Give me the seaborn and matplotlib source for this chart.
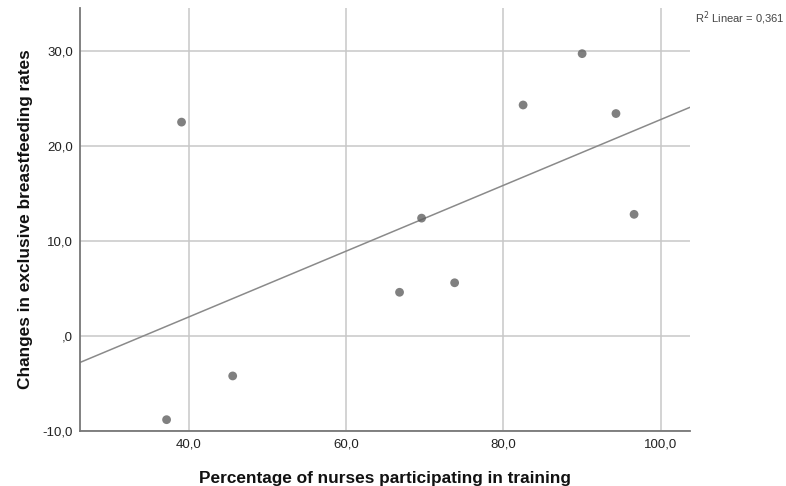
import numpy as np
import pandas as pd
import seaborn as sns
import matplotlib.pyplot as plt
from matplotlib.ticker import FuncFormatter

# values
nurses_pct = [39.1, 90.0, 82.5, 94.3, 96.6, 69.6, 66.8, 73.8, 45.6, 37.2]
bf_change = [22.5, 29.7, 24.3, 23.4, 12.8, 12.4, 4.6, 5.6, -4.2, -8.8]
x_ticks = [40, 60, 80, 100]
y_ticks = [-10, 0, 10, 20, 30]

df = pd.DataFrame({'nurses': nurses_pct, 'change': bf_change})

sns.set_style('white')
plt.rcParams['font.family'] = ['Liberation Sans', 'DejaVu Sans']

fig = plt.figure(figsize=(7.86, 4.86), dpi=100)
ax = fig.add_axes([0.1018, 0.113, 0.776, 0.8705])
ax.set_xlim(26.2, 103.7)
ax.set_ylim(-10, 34.5)

sns.regplot(data=df, x='nurses', y='change', ax=ax, ci=None, truncate=False,
            scatter_kws={'s': 40, 'color': '#606060', 'edgecolor': 'none', 'zorder': 3},
            line_kws={'color': '#8a8a8a', 'lw': 1.1, 'zorder': 2})
ax.set_xlim(26.2, 103.7)
ax.set_ylim(-10, 34.5)

ax.set_xticks(x_ticks)
ax.set_yticks(y_ticks)

def comma_fmt(v, pos):
    s = f'{v:.1f}'.replace('.', ',')
    if s == '0,0':
        s = ',0'
    return s

ax.xaxis.set_major_formatter(FuncFormatter(comma_fmt))
ax.yaxis.set_major_formatter(FuncFormatter(comma_fmt))
ax.tick_params(length=0, labelsize=9.5, labelcolor='#222222', pad=5)
ax.grid(True, color='#c8c8c8', lw=1.1)
ax.set_axisbelow(True)
for s in ['top', 'right']:
    ax.spines[s].set_visible(False)
for s in ['left', 'bottom']:
    ax.spines[s].set_color('#777777')
    ax.spines[s].set_linewidth(1.3)

ax.set_xlabel('Percentage of nurses participating in training', fontsize=12.4,
              fontweight='bold', color='#111111')
ax.set_ylabel('Changes in exclusive breastfeeding rates', fontsize=12.4,
              fontweight='bold', color='#111111')
ax.xaxis.set_label_coords(0.5, -0.095)
ax.yaxis.set_label_coords(-0.077, 0.5)

r2 = np.corrcoef(nurses_pct, bf_change)[0, 1] ** 2
fig.text(0.884, 0.962, 'R$^2$ Linear = ' + f'{r2:.3f}'.replace('.', ','),
         fontsize=8, color='#444444', ha='left', va='center')

fig.savefig('out.png', dpi=100)
